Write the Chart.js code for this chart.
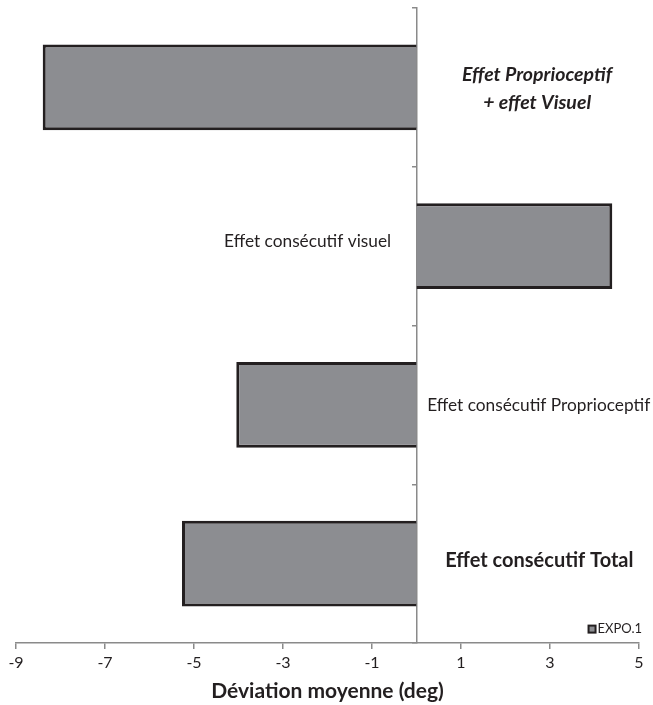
<!DOCTYPE html>
<html>
<head>
<meta charset="utf-8">
<script src="https://cdn.jsdelivr.net/npm/chart.js@4/dist/chart.umd.min.js"></script>
<style>
  html, body { margin: 0; padding: 0; background: #ffffff; }
  #wrap { width: 653px; height: 705px; }
</style>
</head>
<body>
<div id="wrap"><canvas id="c" width="653" height="705"></canvas></div>
<script>
// Mean deviation (deg) per condition, top to bottom
const categories = [
  "Effet Proprioceptif + effet Visuel",
  "Effet consécutif visuel",
  "Effet consécutif Proprioceptif",
  "Effet consécutif Total"
];
const expo1 = [-8.4, 4.4, -4.05, -5.27];
const xTicks = [-9, -7, -5, -3, -1, 1, 3, 5];
const seriesName = "EXPO.1";
const axisTitle = "Déviation moyenne (deg)";

const FONT = "Lato, 'Open Sans', sans-serif";
const TEXT = "#231f20";
const AXIS = "#8a8a8a";
const FILL = "#8c8d91";
const EDGE = "#231f20";

// Labels written beside each bar, anchored on the x scale
const barLabels = [
  { lines: ["Effet Proprioceptif", "+ effet Visuel"], at: 2.71, align: "center", font: "italic bold 19.5px " + FONT, gap: 28, dy: 1 },
  { lines: ["Effet consécutif visuel"], at: -0.57, align: "right", font: "17.3px " + FONT, gap: 0, dy: -5 },
  { lines: ["Effet consécutif Proprioceptif"], at: 0.24, align: "left", font: "17.3px " + FONT, gap: 0, dy: 0 },
  { lines: ["Effet consécutif Total"], at: 2.76, align: "center", font: "bold 20px " + FONT, gap: 0, dy: -3 }
];

const sideLabels = {
  id: "sideLabels",
  afterDatasetsDraw(chart) {
    const { ctx, scales } = chart;
    ctx.save();
    ctx.fillStyle = TEXT;
    ctx.textBaseline = "middle";
    barLabels.forEach((lab, i) => {
      const y = scales.y.getPixelForValue(i) + lab.dy;
      const x = scales.x.getPixelForValue(lab.at);
      ctx.font = lab.font;
      ctx.textAlign = lab.align;
      const n = lab.lines.length;
      lab.lines.forEach((t, k) => {
        ctx.fillText(t, x, y + (k - (n - 1) / 2) * lab.gap);
      });
    });
    ctx.restore();
  }
};

// Series key in the lower right corner of the plot
const seriesKey = {
  id: "seriesKey",
  afterDraw(chart) {
    const { ctx, chartArea } = chart;
    ctx.save();
    ctx.font = "13px " + FONT;
    ctx.textBaseline = "middle";
    ctx.textAlign = "right";
    const right = chartArea.right + 3;
    const y = chartArea.bottom - 14;
    const w = ctx.measureText(seriesName).width;
    ctx.fillStyle = TEXT;
    ctx.fillText(seriesName, right, y);
    const sx = right - w - 10;
    ctx.fillStyle = EDGE;
    ctx.fillRect(sx, y - 4.5, 9, 9);
    ctx.fillStyle = FILL;
    ctx.fillRect(sx + 2, y - 2.5, 5, 5);
    ctx.restore();
  }
};

new Chart(document.getElementById("c"), {
  type: "bar",
  data: {
    labels: categories,
    datasets: [{
      label: seriesName,
      data: expo1,
      backgroundColor: FILL,
      borderColor: EDGE,
      borderWidth: 3,
      borderSkipped: "start",
      categoryPercentage: 1,
      barPercentage: 0.54
    }]
  },
  options: {
    indexAxis: "y",
    responsive: false,
    animation: false,
    layout: { padding: { left: 16, right: 14, top: 8, bottom: 1.5 } },
    plugins: {
      legend: { display: false },
      tooltip: { enabled: false }
    },
    scales: {
      x: {
        type: "linear",
        min: -9,
        max: 5,
        afterBuildTicks(scale) { scale.ticks = xTicks.map(v => ({ value: v })); },
        border: { display: true, color: AXIS, width: 1.5 },
        grid: { drawOnChartArea: false, drawTicks: true, tickLength: 6, color: AXIS, lineWidth: 1.5 },
        ticks: { color: TEXT, font: { family: FONT, size: 16 }, padding: 4, maxRotation: 0 },
        title: { display: true, text: axisTitle, color: TEXT, font: { family: FONT, size: 21, weight: "bold" }, padding: { top: 2, bottom: 0 } }
      },
      y: {
        type: "category",
        position: { x: 0 },
        offset: true,
        border: { display: true, color: AXIS, width: 1.5 },
        grid: { drawOnChartArea: false, drawTicks: true, tickLength: 4, color: AXIS, lineWidth: 1.5, offset: true },
        ticks: { display: false }
      }
    }
  },
  plugins: [sideLabels, seriesKey]
});
</script>
</body>
</html>
